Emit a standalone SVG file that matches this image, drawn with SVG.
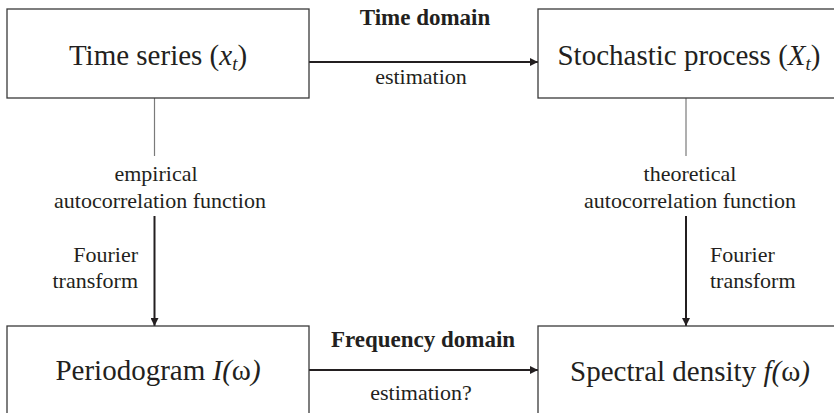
<svg xmlns="http://www.w3.org/2000/svg" width="834" height="413" viewBox="0 0 834 413">
  <style>
    .box { fill: #ffffff; stroke: #3a3a3a; stroke-width: 1.3; }
    .thin { stroke: #7a7a7a; stroke-width: 1.2; fill: none; }
    .arrow { stroke: #231f20; stroke-width: 2; fill: none; }
  </style>
  <defs>
    <marker id="head" viewBox="0 0 10 10" refX="10" refY="5" markerWidth="9" markerHeight="8" markerUnits="userSpaceOnUse" orient="auto">
      <path d="M0,0 L10,5 L0,10 Z" fill="#231f20"/>
    </marker>
  </defs>

  <!-- connectors and their labels -->
  <g id="connectors">
    <!-- time domain: estimation -->
    <line class="arrow" x1="309" y1="62" x2="538" y2="62" marker-end="url(#head)"/>
    <!-- frequency domain: estimation? -->
    <line class="arrow" x1="309" y1="370" x2="538" y2="370" marker-end="url(#head)"/>
    <!-- Fourier transform arrows -->
    <line class="arrow" x1="154.5" y1="216" x2="154.5" y2="326" marker-end="url(#head)"/>
    <line class="arrow" x1="686" y1="216" x2="686" y2="326" marker-end="url(#head)"/>
    <!-- autocorrelation stems -->
    <line class="thin" x1="154.5" y1="98" x2="154.5" y2="156"/>
    <line class="thin" x1="686" y1="98" x2="686" y2="156"/>

    <text style="font-family:'Liberation Serif',serif;font-size:23px;font-weight:bold;fill:#231f20;text-anchor:middle" x="425" y="25">Time domain</text>
    <text style="font-family:'Liberation Serif',serif;font-size:23px;font-weight:bold;fill:#231f20;text-anchor:middle" x="423" y="347">Frequency domain</text>
    <text style="font-family:'Liberation Serif',serif;font-size:22px;fill:#231f20;text-anchor:middle" x="421" y="84">estimation</text>
    <text style="font-family:'Liberation Serif',serif;font-size:22px;fill:#231f20;text-anchor:middle" x="421" y="400">estimation?</text>
    <text style="font-family:'Liberation Serif',serif;font-size:22px;fill:#231f20;text-anchor:middle" x="156" y="181">empirical</text>
    <text style="font-family:'Liberation Serif',serif;font-size:22px;fill:#231f20;text-anchor:middle" x="160" y="208">autocorrelation function</text>
    <text style="font-family:'Liberation Serif',serif;font-size:22px;fill:#231f20;text-anchor:middle" x="690" y="181">theoretical</text>
    <text style="font-family:'Liberation Serif',serif;font-size:22px;fill:#231f20;text-anchor:middle" x="690" y="208">autocorrelation function</text>
    <text style="font-family:'Liberation Serif',serif;font-size:22px;fill:#231f20;text-anchor:end" x="138" y="262">Fourier</text>
    <text style="font-family:'Liberation Serif',serif;font-size:22px;fill:#231f20;text-anchor:end" x="138" y="288">transform</text>
    <text style="font-family:'Liberation Serif',serif;font-size:22px;fill:#231f20" x="710" y="262">Fourier</text>
    <text style="font-family:'Liberation Serif',serif;font-size:22px;fill:#231f20" x="710" y="288">transform</text>
  </g>

  <g id="time-series">
    <rect class="box" x="7" y="9" width="302" height="89"/>
    <text style="font-family:'Liberation Serif',serif;font-size:29px;fill:#231f20;text-anchor:middle" x="158" y="65">Time series (<tspan style="font-family:'Liberation Serif',serif;font-style:italic">x</tspan><tspan style="font-family:'Liberation Serif',serif;font-style:italic;font-size:19px" dy="5">t</tspan><tspan style="font-family:'Liberation Serif',serif" dy="-5">)</tspan></text>
  </g>

  <g id="stochastic-process">
    <rect class="box" x="538" y="9" width="310" height="89"/>
    <text style="font-family:'Liberation Serif',serif;font-size:29px;fill:#231f20;text-anchor:middle" x="689" y="65">Stochastic process (<tspan style="font-family:'Liberation Serif',serif;font-style:italic">X</tspan><tspan style="font-family:'Liberation Serif',serif;font-style:italic;font-size:19px" dy="5">t</tspan><tspan style="font-family:'Liberation Serif',serif" dy="-5">)</tspan></text>
  </g>

  <g id="periodogram">
    <rect class="box" x="7" y="326" width="302" height="100"/>
    <text style="font-family:'Liberation Serif',serif;font-size:29px;fill:#231f20;text-anchor:middle" x="158" y="380">Periodogram <tspan style="font-family:'Liberation Serif',serif;font-style:italic">I(</tspan>&#969;<tspan style="font-family:'Liberation Serif',serif;font-style:italic">)</tspan></text>
  </g>

  <g id="spectral-density">
    <rect class="box" x="538" y="326" width="310" height="100"/>
    <text style="font-family:'Liberation Serif',serif;font-size:29px;fill:#231f20;text-anchor:middle" x="690" y="381">Spectral density <tspan style="font-family:'Liberation Serif',serif;font-style:italic">f(</tspan>&#969;<tspan style="font-family:'Liberation Serif',serif;font-style:italic">)</tspan></text>
  </g>
</svg>
